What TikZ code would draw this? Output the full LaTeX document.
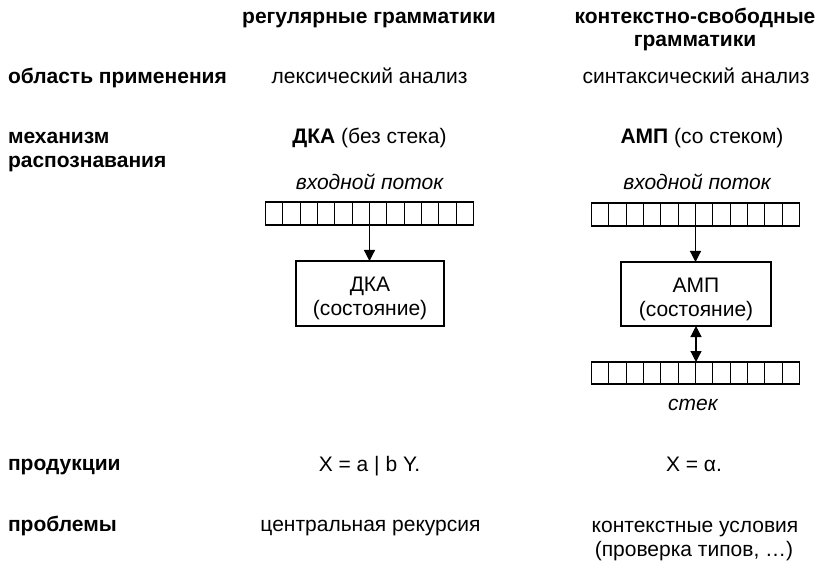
\documentclass[tikz,border=0pt]{standalone}
\usepackage{fontspec}
\setmainfont{Liberation Sans}
\usetikzlibrary{arrows.meta,calc}
\begin{document}
\begin{tikzpicture}[x=1bp,y=-1bp,
  every node/.style={inner sep=0pt,outer sep=0pt},
  txt/.style={anchor=base,font=\fontsize{21bp}{24bp}\selectfont},
  hdr/.style={anchor=base,font=\fontsize{21bp}{24bp}\selectfont\bfseries},
  lbl/.style={anchor=base west,font=\fontsize{21bp}{24bp}\selectfont\bfseries},
  ital/.style={anchor=base,font=\fontsize{21bp}{24bp}\selectfont\itshape},
  tape/.style={draw,line width=1.2bp,minimum width=208bp,minimum height=23bp},
  statebox/.style={draw,line width=1.2bp,minimum width=148bp,minimum height=65bp},
  tip/.tip={Triangle[width=11bp,length=11bp]},
  flow/.style={line width=1.2bp,-tip},
  twoway/.style={line width=1.2bp,tip-tip}
]
\useasboundingbox (0,0) rectangle (818,568);

% column headers
\node[hdr] (hdrA)  at (369,23.5) {регулярные грамматики};
\node[hdr] (hdrB1) at (695,24) {контекстно-свободные};
\node[hdr] (hdrB2) at (695,47) {грамматики};

% row labels
\node[lbl] (rowUse)   at (8,84)  {область применения};
\node[lbl] (rowMech1) at (8,144) {механизм};
\node[lbl] (rowMech2) at (8,168) {распознавания};
\node[lbl] (rowProd)  at (8,470) {продукции};
\node[lbl] (rowProb)  at (8,531) {проблемы};

% area of use
\node[txt] (useA) at (369.5,84) {лексический анализ};
\node[txt] (useB) at (696,84) {синтаксический анализ};

% recognition mechanism
\node[txt] (mechA) at (369.5,144) {\textbf{ДКА} (без стека)};
\node[txt] (mechB) at (702,144) {\textbf{АМП} (со стеком)};

\node[ital] (streamA) at (369.5,190) {входной поток};
\node[ital] (streamB) at (697,190) {входной поток};

% tapes
\node[tape] (inA) at (369.5,213.5) {};
\node[tape] (inB) at (695.5,214.5) {};
\node[tape,minimum height=22bp] (stk) at (695.5,373) {};
\foreach \t in {inA,inB,stk}
  \foreach \i in {1,...,11}
    \draw[line width=1.2bp] ($(\t.south west)!\i/12!(\t.south east)$) -- ($(\t.north west)!\i/12!(\t.north east)$);

% state boxes
\node[statebox] (boxA) at (370,293.5) {};
\node[statebox,minimum width=150bp,minimum height=64bp] (boxB) at (696,294) {};
\node[txt] (boxA1) at (370,291) {ДКА};
\node[txt] (boxA2) at (370,315) {(состояние)};
\node[txt] (boxB1) at (696,292) {АМП};
\node[txt] (boxB2) at (696,316.5) {(состояние)};

\node[ital] (stkLbl) at (693,410) {стек};

% connectors
\draw[flow] (inA.south) -- (inA.south |- boxA.north);
\draw[flow] (inB.south) -- (inB.south |- boxB.north);
\draw[twoway] (boxB.south) -- (boxB.south |- stk.north);

% productions
\node[txt] (prodA) at (369.5,471) {X = a | b Y.};
\node[txt] (prodB) at (694,471) {X = α.};

% problems
\node[txt] (probA)  at (370.5,531) {центральная рекурсия};
\node[txt] (probB1) at (695,532) {контекстные условия};
\node[txt] (probB2) at (694,556) {(проверка типов, …)};
\end{tikzpicture}
\end{document}
